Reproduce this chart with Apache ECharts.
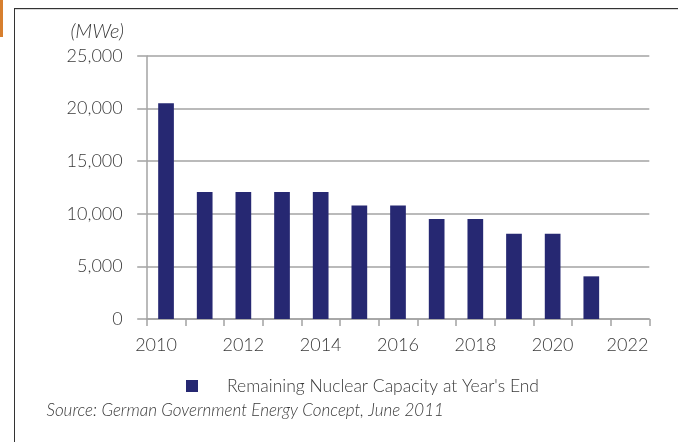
<!DOCTYPE html>
<html>
<head>
<meta charset="utf-8">
<script src="https://cdn.jsdelivr.net/npm/echarts@6/dist/echarts.min.js"></script>
<style>
html,body{margin:0;padding:0;background:#fff;}
#c{width:678px;height:442px;}
</style>
</head>
<body>
<div id="c"></div>
<script>
const years = ['2010','2011','2012','2013','2014','2015','2016','2017','2018','2019','2020','2021','2022'];
const capacity = [20500, 12068, 12068, 12068, 12068, 10793, 10793, 9509, 9509, 8107, 8107, 4055, 0];
const seriesName = "Remaining Nuclear Capacity at Year's End";
const unitLabel = '(MWe)';
const sourceText = 'Source: German Government Energy Concept, June 2011';

const FONT = 'Lato, "Open Sans", sans-serif';
const W = 300;
const TXT = '#3a3a3a';
const AX = '#a3a3a3';

const chart = echarts.init(document.getElementById('c'), null, {renderer: 'canvas'});
chart.setOption({
  animation: false,
  backgroundColor: '#fff',
  textStyle: {fontFamily: FONT, fontWeight: W},
  grid: {left: 146.7, right: 28.7, top: 56, bottom: 123, containLabel: false},
  legend: {
    data: [{name: seriesName, icon: 'rect'}],
    left: 186, top: 377, padding: 0,
    itemWidth: 12, itemHeight: 12,
    textStyle: {fontFamily: FONT, fontWeight: W, fontSize: 17.5, color: TXT, padding: [0, 0, 0, 24]},
    selectedMode: false
  },
  xAxis: {
    type: 'category',
    data: years,
    boundaryGap: true,
    axisLine: {lineStyle: {color: AX, width: 1.5}},
    axisTick: {show: true, length: 7, interval: 0, lineStyle: {color: AX, width: 1.5}},
    axisLabel: {
      interval: 1,
      margin: 17,
      color: TXT,
      fontFamily: FONT,
      fontWeight: W,
      fontSize: 18,
      formatter: function (v, i) {
        if (i === 0) return '{a|' + v + '}';
        if (i === years.length - 1) return '{b|' + v + '}';
        return v;
      },
      rich: {
        a: {fontFamily: FONT, fontWeight: W, fontSize: 18, color: TXT, padding: [0, 20, 0, 0]},
        b: {fontFamily: FONT, fontWeight: W, fontSize: 18, color: TXT, padding: [0, 5, 0, 0]}
      }
    },
    splitLine: {show: false}
  },
  yAxis: {
    type: 'value',
    min: 0, max: 25000, interval: 5000,
    axisLine: {show: true, lineStyle: {color: AX, width: 1.5}},
    axisTick: {show: true, length: 9.5, lineStyle: {color: AX, width: 1.5}},
    axisLabel: {
      margin: 24,
      color: TXT,
      fontFamily: FONT,
      fontWeight: W,
      fontSize: 18,
      formatter: function (v) { return v.toLocaleString('en-US'); }
    },
    splitLine: {show: true, lineStyle: {color: AX, width: 1.5}}
  },
  series: [{
    name: seriesName,
    type: 'bar',
    data: capacity,
    barWidth: 15.7,
    itemStyle: {color: '#262872', borderWidth: 0}
  }],
  graphic: [
    {type: 'rect', shape: {x: 0, y: 0, width: 3, height: 37}, style: {fill: '#d77f2e'}},
    {type: 'line', shape: {x1: 14, y1: 8.5, x2: 678, y2: 8.5}, style: {stroke: '#333', lineWidth: 1}},
    {type: 'line', shape: {x1: 14, y1: 9.5, x2: 678, y2: 9.5}, style: {stroke: '#d8d8d8', lineWidth: 1}},
    {type: 'line', shape: {x1: 14.5, y1: 8, x2: 14.5, y2: 442}, style: {stroke: '#333', lineWidth: 1}},
    {type: 'text', x: 124, y: 32, style: {text: unitLabel, fill: TXT, font: 'italic 300 20px ' + FONT, align: 'right', verticalAlign: 'middle'}},
    {type: 'text', x: 46.5, y: 411, style: {text: sourceText, fill: TXT, font: 'italic 300 17px ' + FONT, align: 'left', verticalAlign: 'middle'}}
  ]
});
</script>
</body>
</html>
